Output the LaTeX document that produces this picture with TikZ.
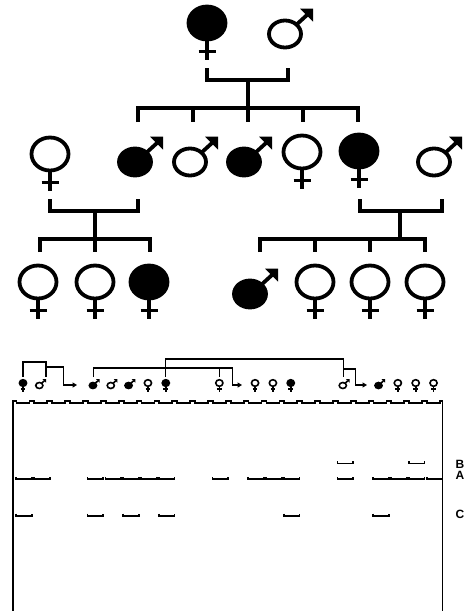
\documentclass[tikz,border=0pt]{standalone}
\usepackage{fontspec}
\setmainfont{Liberation Sans}
\usetikzlibrary{arrows.meta,calc}
\tikzset{
  ped/.style={line width=3.8pt, line cap=butt, line join=miter},
  sym/.style={line width=1.6pt},
  gl/.style={line width=1.3pt},
  gelwall/.style={line width=1.8pt},
  band/.style={line width=1.7pt},
  garrow/.style={gl, -{Triangle[length=4.5pt,width=5pt]}},
  lbl/.style={font=\fontsize{12}{12}\selectfont\bfseries, anchor=base west, inner sep=0pt},
  pics/fem/.style={code={
    \draw[ped, fill=#1] (0,0) ellipse [x radius=18.5pt, y radius=16.5pt];
    \draw[ped] (0,16.5) -- (0,36.5) (-8.5,28.5) -- (8.5,28.5);
  }},
  pics/mal/.style={code={
    \draw[ped, fill=#1] (0,0) ellipse [x radius=16pt, y radius=13.5pt];
    \draw[ped] (10.5,-8.5) -- (22,-19);
    \fill (28,-25.5) -- (15,-25.5) -- (28,-12.5) -- cycle;
  }},
  pics/sfem/.style={code={
    \draw[sym, fill=#1] (0,0) ellipse [x radius=3.6pt, y radius=3.3pt];
    \draw[sym] (0,3.3) -- (0,8.5) (-2.4,6.2) -- (2.4,6.2);
  }},
  pics/smal/.style={code={
    \draw[sym, fill=#1] (-1.5,2.5) ellipse [x radius=3.6pt, y radius=3pt];
    \draw[sym] (0.8,0.3) -- (3.4,-2.1);
    \fill (5.2,-3.9) -- (1.6,-3.9) -- (5.2,-0.3) -- cycle;
  }},
}
\begin{document}
\begin{tikzpicture}[x=1pt,y=-1pt]
\useasboundingbox (0,0) rectangle (465,611);
\fill[white] (0,0) rectangle (465,611);

% ---------- pedigree ----------
\coordinate (I1) at (207,23);
\coordinate (I2) at (285,34);
\coordinate (II1) at (50,154);
\coordinate (II2) at (135,162);
\coordinate (II3) at (190,162);
\coordinate (II4) at (244,162);
\coordinate (II5) at (302,152);
\coordinate (II6) at (359,151);
\coordinate (II7) at (434,162);
\coordinate (III1) at (38,282);
\coordinate (III2) at (95,282);
\coordinate (III3) at (149,282);
\coordinate (III4) at (250,294);
\coordinate (III5) at (315,282);
\coordinate (III6) at (370,282);
\coordinate (III7) at (425,282);

\pic at (I1) {fem=black};
\pic at (I2) {mal=white};
\pic at (II1) {fem=white};
\pic at (II2) {mal=black};
\pic at (II3) {mal=white};
\pic at (II4) {mal=black};
\pic at (II5) {fem=white};
\pic at (II6) {fem=black};
\pic at (II7) {mal=white};
\pic at (III1) {fem=white};
\pic at (III2) {fem=white};
\pic at (III3) {fem=black};
\pic at (III4) {mal=black};
\pic at (III5) {fem=white};
\pic at (III6) {fem=white};
\pic at (III7) {fem=white};

% generation I mating and sibship
\coordinate (M1) at (248,80);
\draw[ped] ($(I1)+(0,45)$) |- ($(I2)+(3,46)$) -- ($(I2)+(3,34)$);
\draw[ped] (M1) -- ($(II4)+(4,-40)$);
\draw[ped] ($(II2)+(3,-40)$) |- ($(II6)+(-1,-43)$) -- ($(II6)+(-1,-29)$);
\draw[ped] ($(II3)+(3,-54)$) -- ($(II3)+(3,-40)$);
\draw[ped] ($(II5)+(1,-44)$) -- ($(II5)+(1,-30)$);

% left family
\coordinate (M2) at (95,211);
\draw[ped] ($(II1)+(0,45)$) |- ($(II2)+(3,49)$) -- ($(II2)+(3,37)$);
\draw[ped] (M2) -- ($(III2)+(0,-30)$);
\draw[ped] ($(III1)+(2,-30)$) |- ($(III3)+(1,-43)$) -- ($(III3)+(1,-30)$);

% right family
\coordinate (M3) at (400,211);
\coordinate (S3) at (400,239);
\draw[ped] ($(II6)+(1,48)$) |- ($(II7)+(8,49)$) -- ($(II7)+(8,37)$);
\draw[ped] (M3) -- (S3);
\draw[ped] ($(III4)+(10,-42)$) |- ($(III7)+(0,-43)$) -- ($(III7)+(0,-30)$);
\draw[ped] ($(III5)+(0,-43)$) -- ($(III5)+(0,-30)$);
\draw[ped] ($(III6)+(0,-43)$) -- ($(III6)+(0,-30)$);

% ---------- gel ----------
\foreach \i in {0,...,23} \coordinate (G\i) at ({23+17.85*\i},383);

\foreach \i/\c in {0/black,7/white,8/black,11/white,13/white,14/white,15/black,21/white,22/white,23/white}
  \pic at (G\i) {sfem=\c};
\foreach \i/\c in {1/white,4/black,5/white,6/black,18/white,20/black}
  \pic at (G\i) {smal=\c};

% gel connectors
\draw[gl] ($(G0)+(0,-6)$) |- ($(G1)+(5,-21)$) -- ($(G1)+(5,-6)$);
\draw[garrow] ($(G1)+(5,-16)$) -| ($(G2)+(5,2)$) -- ($(G3)+(0.5,2)$);
\draw[gl] ($(G4)+(-1,-6)$) |- ($(G11)+(0,-15)$) -- ($(G11)+(0,-6)$);
\draw[garrow] ($(G11)+(0,-15)$) -| ($(G12)+(-5,2)$) -- ($(G13)+(-13,2)$);
\draw[gl] ($(G8)+(0,-6)$) |- ($(G18)+(-1,-24)$) -- ($(G18)+(-1,-6)$);
\draw[garrow] ($(G18)+(-1,-14)$) -| ($(G19)+(-7,2)$) -- ($(G20)+(-13,2)$);

% gel outline with wells
\begin{scope}
\clip (0,0) rectangle (465,611);
\draw[gelwall] (13,612) -- (13,400.7)
  \foreach \i in {0,...,23}{ -- ({23+17.85*\i-6.5},400.7) -- ++(0,2.6) -- ++(13,0) -- ++(0,-2.6) }
  -- (442.5,400.7) -- (442.5,612);
\end{scope}

% bands
\foreach \i in {18,22}
  \draw[band] ($(G\i)+(-6.8,78.2)$) -- ++(0,2.3) -- ++(15.6,0) -- ++(0,-2.3);
\foreach \i in {0,1,4,5,6,7,8,11,13,14,15,18,20,21,22,23}
  \draw[band] ($(G\i)+(-6.8,94)$) -- ++(0,2.3) -- ++(15.6,0) -- ++(0,-2.3);
\foreach \i in {0,4,6,8,15,20}
  \draw[band] ($(G\i)+(-6.8,130.7)$) -- ++(0,2.3) -- ++(15.6,0) -- ++(0,-2.3);

\node[lbl] (lB) at (455.5,468) {B};
\node[lbl] (lA) at (455.5,479) {A};
\node[lbl] (lC) at (455.5,518.5) {C};
\end{tikzpicture}
\end{document}
